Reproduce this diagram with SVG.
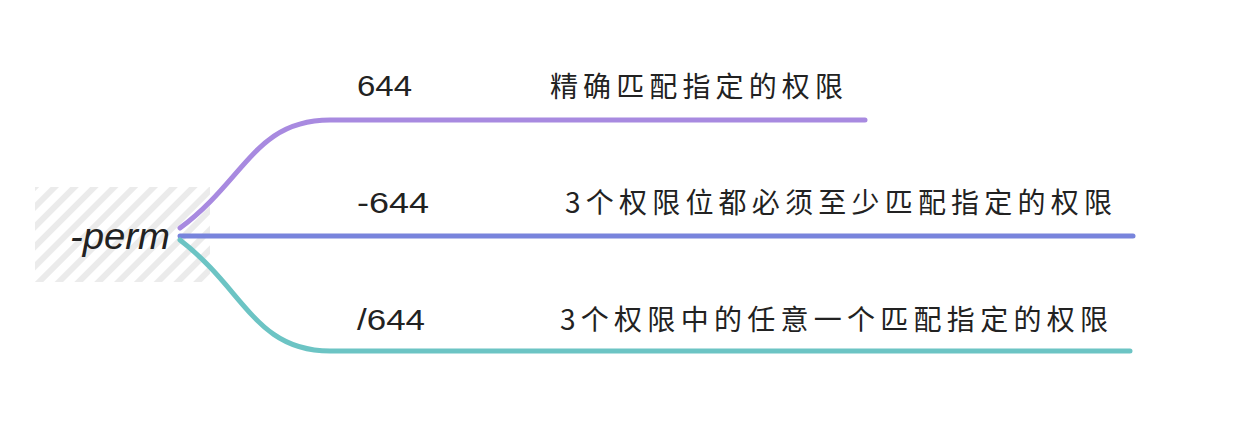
<svg xmlns="http://www.w3.org/2000/svg" width="1253" height="439" viewBox="0 0 1253 439">
<defs>
<pattern id="hatch" width="14" height="14" patternUnits="userSpaceOnUse" patternTransform="rotate(45)">
<rect x="0" y="0" width="6" height="14" fill="#ebebeb"/>
</pattern>
<style>
.br{fill:none;stroke-width:5;stroke-linecap:round}
.num{font-family:"Liberation Sans",sans-serif;font-size:29px;fill:#222}
.cjk{font-family:"Noto Sans CJK SC",sans-serif;font-size:28px;fill:#222}
</style>
</defs>
<rect width="1253" height="439" fill="#ffffff"/>
<g id="root">
<rect x="35" y="187" width="175" height="95" fill="url(#hatch)"/>
<text x="70" y="249" font-family="Liberation Sans, sans-serif" font-style="italic" font-size="37" fill="#222" textLength="100" lengthAdjust="spacingAndGlyphs">-perm</text>
</g>
<g id="connectors">
<path class="br" stroke="#a88ae0" d="M180,228 C245,180 255,120 330,120 L865,120"/>
<path class="br" stroke="#7884dc" d="M180,236 L1133,236"/>
<path class="br" stroke="#6cc4c4" d="M180,240 C245,290 255,351 330,351 L1130,351"/>
</g>
<g id="n1">
<text class="num" x="357" y="96" textLength="55" lengthAdjust="spacingAndGlyphs">644</text>
<text class="cjk" x="550" y="97" textLength="293" lengthAdjust="spacing">精确匹配指定的权限</text>
</g>
<g id="n2">
<text class="num" x="357" y="213" textLength="72" lengthAdjust="spacingAndGlyphs">-644</text>
<text class="cjk" x="565" y="213" textLength="547" lengthAdjust="spacing">3个权限位都必须至少匹配指定的权限</text>
</g>
<g id="n3">
<text class="num" x="357" y="330" textLength="68" lengthAdjust="spacingAndGlyphs">/644</text>
<text class="cjk" x="560" y="330" textLength="548" lengthAdjust="spacing">3个权限中的任意一个匹配指定的权限</text>
</g>
</svg>
